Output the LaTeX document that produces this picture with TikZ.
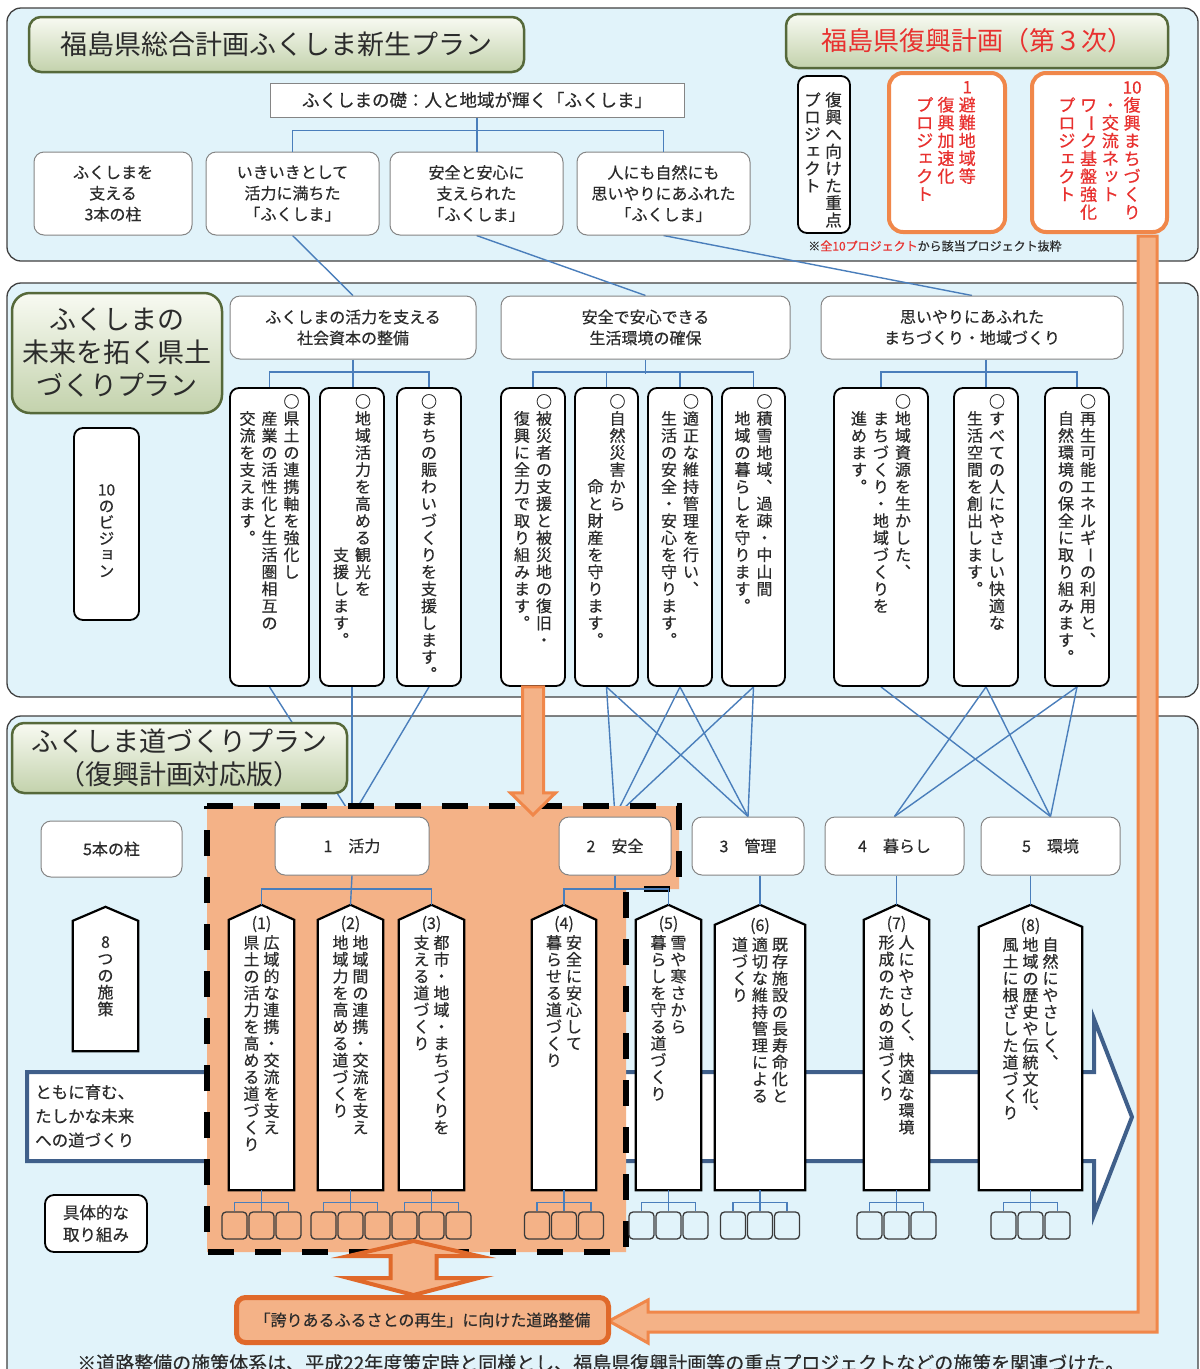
\documentclass[tikz,border=0pt]{standalone}
\usepackage{fontspec}
\setmainfont{Noto Sans CJK JP}[RawFeature={embolden=0.5}]
\newfontfamily\ttlf{Noto Sans CJK JP}
\usepackage{graphicx}
\usetikzlibrary{calc}
\pgfdeclarelayer{bg}
\pgfdeclarelayer{lines}
\pgfsetlayers{bg,lines,main}

\definecolor{panelbg}{HTML}{E1F3FA}
\definecolor{panelln}{HTML}{404040}
\definecolor{connc}{HTML}{4A7EBB}
\definecolor{peach}{HTML}{F4B287}
\definecolor{orng}{HTML}{F0874A}
\definecolor{dorng}{HTML}{E0692A}
\definecolor{redtx}{HTML}{E8312F}
\definecolor{txt}{HTML}{2B2B2B}
\definecolor{gtop}{HTML}{F8FAF2}
\definecolor{gbot}{HTML}{C3D2AC}
\definecolor{gln}{HTML}{56693A}
\definecolor{arrln}{HTML}{3F5F8A}
\definecolor{lgray}{HTML}{858585}
\definecolor{kln}{HTML}{3A3A3A}

\newcommand\fs[2]{\fontsize{#1}{#2}\selectfont}
\newcommand\vtstep{1.06em}
\newcommand\vtsep{0.35em}

\ExplSyntaxOn
\cs_new_protected:Npn \vtx_small:n #1
  { \hbox_to_wd:nn { 1em } { \hss \raisebox{0.12em}{ \kern 0.12em #1 } \hss } }
\cs_new_protected:Npn \vtx_char:n #1
  {
    \str_case:nnF { #1 }
      {
        { 、 } { \hbox_to_wd:nn { 1em } { \hss ︑ \hss } }
        { 。 } { \hbox_to_wd:nn { 1em } { \hss ︒ \hss } }
        { ー } { \hbox_to_wd:nn { 1em } { \hss \raisebox{0.15em}{\rotatebox[origin=c]{-90}{ー}} \hss } }
        { ッ } { \vtx_small:n { ッ } }
        { ョ } { \vtx_small:n { ョ } }
        { ェ } { \vtx_small:n { ェ } }
        { ャ } { \vtx_small:n { ャ } }
        { ュ } { \vtx_small:n { ュ } }
      }
      { \hbox_to_wd:nn { 1em } { \hss #1 \hss } }
  }
\cs_new_protected:Npn \vtx_col:n #1
  {
    \vtop
      {
        \baselineskip = \vtstep \scan_stop:
        \lineskip = 0pt \scan_stop:
        \lineskiplimit = -\maxdimen
        \tl_map_inline:nn { #1 } { \vtx_char:n { ##1 } }
      }
  }
\seq_new:N \l_vtx_cols_seq
\NewDocumentCommand \VText { m }
  {
    \seq_set_split:Nnn \l_vtx_cols_seq { | } { #1 }
    \seq_reverse:N \l_vtx_cols_seq
    \hbox:n
      {
        \seq_map_indexed_inline:Nn \l_vtx_cols_seq
          {
            \int_compare:nNnT { ##1 } > { 1 } { \kern \vtsep \scan_stop: }
            \vtx_col:n { ##2 }
          }
      }
  }
\ExplSyntaxOff

\newcommand\shieldbox[6]{%
  \node[inner sep=0pt,minimum width=#4pt,minimum height=#5pt] (#1) at (#2,#3) {};
  \draw[shieldst] (#1.south west) -- (#1.south east) -- ([yshift=-#6pt]#1.north east) -- (#1.north) -- ([yshift=-#6pt]#1.north west) -- cycle;}

\begin{document}
\begin{tikzpicture}[x=1pt,y=-1pt,
  panel/.style={draw=panelln,fill=panelbg,line width=1.3pt,rounded corners=14pt},
  title/.style={draw=gln,line width=2.5pt,top color=gtop,bottom color=gbot,rounded corners=12pt,inner sep=0pt,text=txt,align=center},
  sqbox/.style={draw=lgray,fill=white,line width=1pt,inner sep=0pt,text=txt,align=center},
  wbox/.style={sqbox,rounded corners=10pt},
  bbox/.style={draw=black,fill=white,line width=1.8pt,rounded corners=9pt,inner sep=0pt},
  pbox/.style={draw=orng,fill=white,line width=4pt,rounded corners=14pt,inner sep=0pt},
  connl/.style={draw=connc,line width=1.4pt},
  vt/.style={anchor=north,inner sep=0pt,text=txt},
  vboxtxt/.style={vt,font={\fs{16}{20}\def\vtstep{1.065em}\def\vtsep{0.375em}}},
  shtxt/.style={vt,font={\fs{16}{20}\def\vtstep{1.05em}\def\vtsep{0.25em}}},
  shlab/.style={inner sep=0pt,text=txt,font=\fs{16}{20}},
  shieldst/.style={draw=black,fill=white,line width=2.2pt,line join=miter},
  kbox/.style={draw=kln,line width=1.3pt,rounded corners=4pt,minimum width=25pt,minimum height=27pt,inner sep=0pt},
  region/.style={draw=black,line width=6pt,dash pattern=on 26pt off 21pt,fill=peach},
  oarrow/.style={fill=peach,draw=orng,line width=3pt},
  darrow/.style={fill=peach,draw=dorng,line width=4pt},
]
\useasboundingbox (0,0) rectangle (1200,1369);

\begin{pgfonlayer}{bg}
  \fill[white] (0,0) rectangle (1200,1369);
  \draw[panel] (7,8) rectangle (1198,261);
  \draw[panel] (7,283) rectangle (1198,697);
  \draw[panel] (7,716) rectangle (1198,1420);
\end{pgfonlayer}

% ---------- panel 1 ----------
\node[title,minimum width=495pt,minimum height=55pt,font={\ttlf\fs{27}{32}}] (t1) at (276.5,44.5) {福島県総合計画ふくしま新生プラン};
\node[title,minimum width=382pt,minimum height=54pt,font={\ttlf\fs{26}{30}},text=redtx] (t2) at (977,41) {福島県復興計画（第３次）};
\node[sqbox,minimum width=414pt,minimum height=34pt,font=\fs{17.5}{20}] (base) at (477,100) {ふくしまの礎：人と地域が輝く「ふくしま」};

\node[wbox,minimum width=158pt,minimum height=83pt,font=\fs{16}{21}] (bA) at (113,193.5) {ふくしまを\\支える\\3本の柱};
\node[wbox,minimum width=173pt,minimum height=83pt,font=\fs{16}{21}] (bB) at (292.5,193.5) {いきいきとして\\活力に満ちた\\「ふくしま」};
\node[wbox,minimum width=173pt,minimum height=83pt,font=\fs{16}{21}] (bC) at (476.5,193.5) {安全と安心に\\支えられた\\「ふくしま」};
\node[wbox,minimum width=173pt,minimum height=83pt,font=\fs{16}{21}] (bD) at (663.5,193.5) {人にも自然にも\\思いやりにあふれた\\「ふくしま」};

\draw[connl] (bB.north) -- ++(0,-21) -| (bD.north);
\draw[connl] (base.south) -- (base.south |- bC.north);

\node[bbox,minimum width=52pt,minimum height=157pt] (pjl) at (824,154.5) {};
\node[vt,font={\fs{16.5}{20}\def\vtstep{1.04em}\def\vtsep{0.28em}}] (pjlt) at (823,92) {\VText{復興へ向けた重点|プロジェクト}};

% L-shaped orange arrow
\draw[oarrow] (1138,236) -- (1157,236) -- (1157,1332) -- (648,1332) -- (648,1343) -- (609,1321) -- (648,1300) -- (648,1312) -- (1138,1312) -- cycle;

\node[pbox,minimum width=116pt,minimum height=159pt] (pj1) at (947,152.5) {};
\node[pbox,minimum width=135pt,minimum height=159pt] (pj10) at (1099.5,152.5) {};
\node[vt,text=redtx,font={\fs{17}{20}\def\vtstep{1.05em}\def\vtsep{0.25em}}] (pj1t) at (946,81) {\VText{{1}避難地域等|　復興加速化|　プロジェクト}};
\node[vt,text=redtx,font={\fs{17}{20}\def\vtstep{1.05em}\def\vtsep{0.28em}}] (pj10t) at (1099.5,81) {\VText{{10}復興まちづくり|　・交流ネット|　ワーク基盤強化|　プロジェクト}};
\node[font=\fs{12}{14},text=txt,inner sep=0pt] (note1) at (935,246) {※\textcolor{redtx}{全10プロジェクト}から該当プロジェクト抜粋};

% ---------- panel 2 ----------
\node[title,minimum width=210pt,minimum height=120pt,font={\ttlf\fs{27}{33}},rounded corners=18pt] (t3) at (117,353) {ふくしまの\\未来を拓く県土\\づくりプラン};
\node[bbox,minimum width=65pt,minimum height=192pt] (vis) at (106.5,524) {};
\node[vt,font={\fs{15.5}{18}\def\vtstep{1.05em}}] (vist) at (106.5,484) {\VText{{10}のビジョン}};

\node[wbox,minimum width=246pt,minimum height=63pt,font=\fs{16}{21}] (h1) at (353,327.5) {ふくしまの活力を支える\\社会資本の整備};
\node[wbox,minimum width=289pt,minimum height=63pt,font=\fs{16}{21}] (h2) at (645.5,327.5) {安全で安心できる\\生活環境の確保};
\node[wbox,minimum width=302pt,minimum height=63pt,font=\fs{16}{21}] (h3) at (972,327.5) {思いやりにあふれた\\まちづくり・地域づくり};

\node[bbox,minimum width=79pt,minimum height=298pt] (v1) at (269.5,537) {};
\node[bbox,minimum width=64pt,minimum height=298pt] (v2) at (352,537) {};
\node[bbox,minimum width=64pt,minimum height=298pt] (v3) at (429,537) {};
\node[bbox,minimum width=64pt,minimum height=298pt] (v4) at (533,537) {};
\node[bbox,minimum width=63pt,minimum height=298pt] (v5) at (606.5,537) {};
\node[bbox,minimum width=64pt,minimum height=298pt] (v6) at (680,537) {};
\node[bbox,minimum width=63pt,minimum height=298pt] (v7) at (753.5,537) {};
\node[bbox,minimum width=94pt,minimum height=298pt] (v8) at (881,537) {};
\node[bbox,minimum width=64pt,minimum height=298pt] (v9) at (986,537) {};
\node[bbox,minimum width=64pt,minimum height=298pt] (v10) at (1077,537) {};

\node[vboxtxt] (v1t) at (269.5,394) {\VText{○県土の連携軸を強化し|　産業の活性化と生活圏相互の|　交流を支えます。}};
\node[vboxtxt] (v2t) at (352,394) {\VText{○地域活力を高める観光を|　　　　　　　　　支援します。}};
\node[vboxtxt] (v3t) at (429,394) {\VText{○まちの賑わいづくりを支援します。}};
\node[vboxtxt] (v4t) at (533,394) {\VText{○被災者の支援と被災地の復旧・|　復興に全力で取り組みます。}};
\node[vboxtxt] (v5t) at (606.5,394) {\VText{○自然災害から|　　　　　命と財産を守ります。}};
\node[vboxtxt] (v6t) at (680,394) {\VText{○適正な維持管理を行い、|　生活の安全・安心を守ります。}};
\node[vboxtxt] (v7t) at (753.5,394) {\VText{○積雪地域、過疎・中山間|　地域の暮らしを守ります。}};
\node[vboxtxt] (v8t) at (881,394) {\VText{○地域資源を生かした、|　まちづくり・地域づくりを|　進めます。}};
\node[vboxtxt] (v9t) at (986,394) {\VText{○すべての人にやさしい快適な|　生活空間を創出します。}};
\node[vboxtxt] (v10t) at (1077,394) {\VText{○再生可能エネルギーの利用と、|　自然環境の保全に取り組みます。}};

\draw[connl] (v1.north) -- ++(0,-15) -| (v3.north);
\draw[connl] (h1.south) -- (h1.south |- v2.north);
\draw[connl] (v4.north) -- ++(0,-15) -| (v7.north);
\draw[connl] (v5.north) -- ++(0,-15);
\draw[connl] (v6.north) -- ++(0,-15);
\draw[connl] (h2.south) -- ++(0,14);
\draw[connl] (v8.north) -- ++(0,-15) -| (v10.north);
\draw[connl] (h3.south -| v9.north) -- (v9.north);

% ---------- panel 3 ----------
\node[title,minimum width=335pt,minimum height=70pt,font={\ttlf\fs{27}{33}}] (t4) at (179.5,758) {ふくしま道づくりプラン\\（復興計画対応版）};

\draw[draw=arrln,line width=4pt,fill=white,line join=miter] (27,1072) -- (1094,1072) -- (1094,1019) -- (1132,1117) -- (1094,1215) -- (1094,1161) -- (27,1161) -- cycle;
\node[anchor=west,align=left,inner sep=0pt,text=txt,font=\fs{16.5}{24}] (road) at (35,1116) {ともに育む、\\たしかな未来\\への道づくり};

\draw[region] (207,806) -- (679,806) -- (679,889) -- (626,889) -- (626,1252) -- (207,1252) -- cycle;

\node[wbox,minimum width=141pt,minimum height=56pt,font=\fs{16}{20}] (p0) at (111.5,849) {5本の柱};
\node[wbox,minimum width=154pt,minimum height=58pt,font=\fs{16}{20}] (p1) at (352,846) {1　活力};
\node[wbox,minimum width=112pt,minimum height=58pt,font=\fs{16}{20}] (p2) at (615,846) {2　安全};
\node[wbox,minimum width=112pt,minimum height=58pt,font=\fs{16}{20}] (p3) at (748,846) {3　管理};
\node[wbox,minimum width=139pt,minimum height=58pt,font=\fs{16}{20}] (p4) at (894.5,846) {4　暮らし};
\node[wbox,minimum width=139pt,minimum height=58pt,font=\fs{16}{20}] (p5) at (1050.5,846) {5　環境};

\begin{pgfonlayer}{lines}
  \draw[connl] (bB.south) -- (h1.north);
  \draw[connl] (bC.south) -- (h2.north);
  \draw[connl] (bD.south) -- (h3.north);
  \foreach \a in {v1,v2,v3} \draw[connl] (\a.south) -- (p1.north);
  \foreach \a in {v5,v6,v7} {\draw[connl] (\a.south) -- (p2.north); \draw[connl] (\a.south) -- (p3.north);}
  \draw[connl] (v8.south) -- (p5.north);
  \foreach \a in {v9,v10} {\draw[connl] (\a.south) -- (p4.north); \draw[connl] (\a.south) -- (p5.north);}
\end{pgfonlayer}

\shieldbox{sh8}{105.5}{979}{65}{144}{14}
\node[shtxt] (sh8t) at (105.5,936) {\VText{8つの施策}};

\shieldbox{s1}{261.5}{1047.5}{65}{285}{15}
\shieldbox{s2}{350.5}{1047.5}{65}{285}{15}
\shieldbox{s3}{431.5}{1047.5}{65}{285}{15}
\shieldbox{s4}{564}{1047.5}{64}{285}{15}
\shieldbox{s5}{668.5}{1047.5}{65}{285}{15}
\shieldbox{s6}{760}{1047.5}{90}{285}{20}
\shieldbox{s7}{896.5}{1047.5}{65}{285}{15}
\shieldbox{s8}{1030.5}{1047.5}{103}{285}{22}

\node[shlab] (s1l) at (261.5,924) {(1)};
\node[shlab] (s2l) at (350.5,924) {(2)};
\node[shlab] (s3l) at (431.5,924) {(3)};
\node[shlab] (s4l) at (564,924) {(4)};
\node[shlab] (s5l) at (668.5,924) {(5)};
\node[shlab] (s6l) at (760,926) {(6)};
\node[shlab] (s7l) at (896.5,924) {(7)};
\node[shlab] (s8l) at (1030.5,926) {(8)};

\node[shtxt] (s1t) at (261.5,935) {\VText{広域的な連携・交流を支え|県土の活力を高める道づくり}};
\node[shtxt] (s2t) at (350.5,935) {\VText{地域間の連携・交流を支え|地域力を高める道づくり}};
\node[shtxt] (s3t) at (431.5,935) {\VText{都市・地域・まちづくりを|支える道づくり}};
\node[shtxt] (s4t) at (564,935) {\VText{安全に安心して|暮らせる道づくり}};
\node[shtxt] (s5t) at (668.5,935) {\VText{雪や寒さから|暮らしを守る道づくり}};
\node[shtxt] (s6t) at (760,937) {\VText{既存施設の長寿命化と|適切な維持管理による|道づくり}};
\node[shtxt] (s7t) at (896.5,935) {\VText{人にやさしく、快適な環境|形成のための道づくり}};
\node[shtxt] (s8t) at (1030.5,937) {\VText{自然にやさしく、|地域の歴史や伝統文化、|風土に根ざした道づくり}};

\draw[connl] (p1.south) -- (s2.north);
\draw[connl] (s1.north) -- ++(0,-16) -| (s3.north);
\draw[connl] (p2.south) -- ++(0,14);
\draw[connl] (s4.north) -- ++(0,-16) -| (s5.north);
\draw[connl] (p3.south -| s6.north) -- (s6.north);
\draw[connl] (p4.south -| s7.north) -- (s7.north);
\draw[connl] (p5.south -| s8.north) -- (s8.north);

\foreach \n/\x in {1/261.5,2/350.5,3/431.5,4/564,5/668.5,6/760,7/896.5,8/1030.5} {
  \node[kbox] (k\n-a) at (\x-27,1225.5) {};
  \node[kbox] (k\n-b) at (\x,1225.5) {};
  \node[kbox] (k\n-c) at (\x+27,1225.5) {};
  \draw[connl] (s\n.south) -- (k\n-b.north);
  \draw[connl] (k\n-a.north) -- ++(0,-9) -| (k\n-c.north);
}

\draw[oarrow] ([xshift=-10.5pt]v4.south) -- ++(21,0) -- ++(0,106) -- ++(12,0) -- ++(-22.5,22) -- ++(-22.5,-22) -- ++(12,0) -- cycle;

\node[bbox,minimum width=102pt,minimum height=57pt,font=\fs{16.5}{22},align=center,text=txt] (gt) at (96,1223.5) {具体的な\\取り組み};

\node[draw=dorng,line width=5pt,fill=peach,rounded corners=9pt,minimum width=372pt,minimum height=45pt,inner sep=0pt,font=\fs{16}{20},text=txt] (hk) at (422.5,1320) {「誇りあるふるさとの再生」に向けた道路整備};
\draw[darrow] ([xshift=-9pt]hk.north) -- ++(-65,-17) -- ++(42,0) -- ++(0,-22) -- ++(-42,0) -- ++(65,-15) -- ++(65,15) -- ++(-42,0) -- ++(0,22) -- ++(42,0) -- cycle;

\node[anchor=west,inner sep=0pt,text=txt,font=\fs{19}{22}] (note2) at (77,1363) {※道路整備の施策体系は、平成22年度策定時と同様とし、福島県復興計画等の重点プロジェクトなどの施策を関連づけた。};
\end{tikzpicture}
\end{document}
